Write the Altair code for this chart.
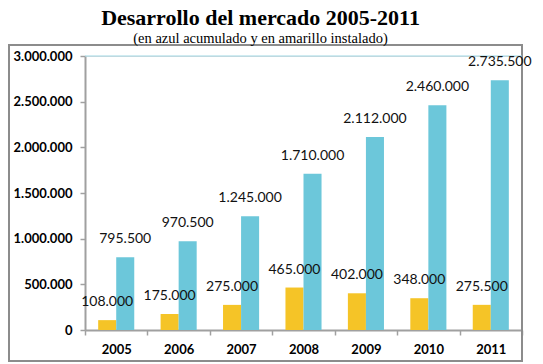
import altair as alt
import pandas as pd

years = ["2005", "2006", "2007", "2008", "2009", "2010", "2011"]
instalado = [108000, 175000, 275000, 465000, 402000, 348000, 275500]
acumulado = [795500, 970500, 1245000, 1710000, 2112000, 2460000, 2735500]
series = ["Instalado", "Acumulado"]
colors = ["#F5C427", "#6CC7DA"]
y_ticks = [0, 500000, 1000000, 1500000, 2000000, 2500000, 3000000]

rows = []
for yr, i, a in zip(years, instalado, acumulado):
    rows.append({"year": yr, "serie": "Instalado", "value": i})
    rows.append({"year": yr, "serie": "Acumulado", "value": a})
df = pd.DataFrame(rows)

W, H = 437, 274

x_enc = alt.X(
    "year:N",
    sort=years,
    scale=alt.Scale(paddingInner=0, paddingOuter=0),
    axis=alt.Axis(
        title=None, labelAngle=0, tickBand="extent", tickSize=5,
        labelFont="Lato", labelFontWeight="bold", labelFontSize=13,
        labelColor="black", labelPadding=8,
        domainColor="#a0a0a0", domainWidth=2, tickColor="#a0a0a0", tickWidth=1.5,
    ),
)
xo_enc = alt.XOffset(
    "serie:N", sort=series,
    scale=alt.Scale(domain=series, paddingInner=0, paddingOuter=0.73),
)
y_enc = alt.Y(
    "value:Q",
    scale=alt.Scale(domain=[0, 3000000], nice=False),
    axis=alt.Axis(
        values=y_ticks, format=",d", title=None, grid=False, tickSize=5,
        labelFont="Lato", labelFontWeight="bold", labelFontSize=13,
        labelColor="black", labelPadding=8,
        domainColor="#a0a0a0", domainWidth=2, tickColor="#a0a0a0", tickWidth=1.5,
    ),
)
color_enc = alt.Color("serie:N", scale=alt.Scale(domain=series, range=colors), legend=None)

base = alt.Chart(df)

bars = base.mark_bar().encode(x=x_enc, xOffset=xo_enc, y=y_enc, color=color_enc)

labels = base.mark_text(
    font="Lato", fontSize=14, color="#111111", baseline="alphabetic", dy=-14
).encode(x=x_enc, xOffset=xo_enc, y=y_enc, text=alt.Text("value:Q", format=",d"))

top_line = alt.Chart(pd.DataFrame({"v": [3000000]})).mark_rule(
    color="#9fd6e3", strokeWidth=1
).encode(y=alt.Y("v:Q"))

frame = alt.Chart(pd.DataFrame({"a": [0]})).mark_rect(
    fill=None, stroke="#8c8c8c", strokeWidth=2
).encode(
    x=alt.value(-76), x2=alt.value(437), y=alt.value(-11), y2=alt.value(305)
)

chart = alt.layer(frame, top_line, bars, labels).properties(
    width=W,
    height=H,
    autosize=alt.AutoSizeParams(type="none"),
    padding={"left": 77, "top": 48, "right": 13, "bottom": 40},
    title=alt.TitleParams(
        text="Desarrollo del mercado 2005-2011",
        subtitle="(en azul acumulado y en amarillo instalado)",
        font="Liberation Serif", fontSize=22, fontWeight="bold", color="black",
        subtitleFont="Liberation Serif", subtitleFontSize=14.5, subtitleColor="black",
        anchor="middle", dx=-43, offset=-2, subtitlePadding=2,
    ),
).configure_view(stroke=None).configure(
    locale={"number": {"decimal": ",", "thousands": ".", "grouping": [3], "currency": ["", " €"]}}
)

chart.save("out.html", embed_options={"renderer": "svg", "actions": False})
